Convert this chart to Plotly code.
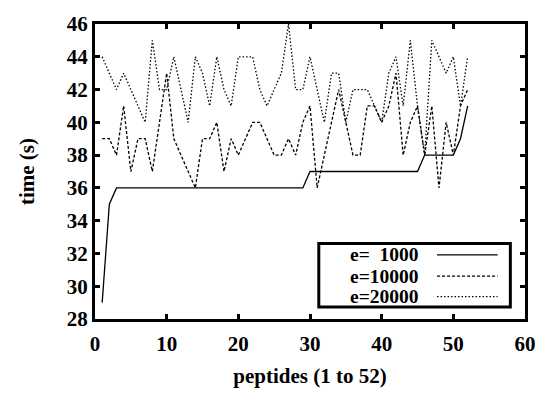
import plotly.graph_objects as go

peptides = list(range(1, 53))
e1000 = [29, 35] + [36] * 27 + [37] * 16 + [38] * 5 + [39, 41]
e10000 = [39, 39, 38, 41, 37, 39, 39, 37, 40, 43,
          39, 38, 37, 36, 39, 39, 40, 37, 39, 38,
          39, 40, 40, 39, 38, 38, 39, 38, 40, 41,
          36, 38, 40, 42, 40, 38, 38, 41, 41, 40,
          41, 43, 38, 40, 41, 38, 41, 36, 40, 38,
          41, 42]
e20000 = [44, 43, 42, 43, 42, 41, 40, 45, 42, 42,
          44, 42, 40, 44, 43, 41, 44, 42, 41, 44,
          44, 44, 42, 41, 42, 43, 46, 42, 42, 44,
          42, 40, 43, 43, 40, 42, 42, 42, 41, 40,
          43, 44, 41, 45, 41, 38, 45, 44, 43, 44,
          41, 44]
labels = ["e=\u00a0\u00a01000", "e=10000", "e=20000"]
dashes = ["solid", "3px,2px", "1.5px,2px"]
series = [e1000, e10000, e20000]

FONT = "Liberation Serif"
W, H = 548, 397
L, R, T, B = 95, 13, 17, 63
PW, PH = W - L - R, H - T - B

def px(x):
    return (x - L) / PW

def py(y):
    return (H - B - y) / PH

fig = go.Figure()
for vals, name, d in zip(series, labels, dashes):
    fig.add_trace(go.Scatter(x=peptides, y=vals, mode="lines", name=name,
                             line=dict(color="black", width=1.3, dash=d),
                             showlegend=False))

# custom gnuplot-style legend
fig.add_shape(type="rect", xref="paper", yref="paper",
              x0=px(324), x1=px(520), y0=py(321), y1=py(253),
              line=dict(color="black", width=3), fillcolor="white", layer="above")
rows = [265, 288, 310]
for name, d, r in zip(labels, dashes, rows):
    fig.add_annotation(xref="paper", yref="paper", x=px(429), y=py(r),
                       text=name, showarrow=False, xanchor="right", yanchor="middle",
                       font=dict(family=FONT, size=19.5, color="black", weight="bold"))
    fig.add_shape(type="line", xref="paper", yref="paper",
                  x0=px(445), x1=px(507), y0=py(r), y1=py(r),
                  line=dict(color="black", width=1.3, dash=d), layer="above")

axis_common = dict(showline=True, linecolor="black", linewidth=3, mirror="ticks",
                   ticks="inside", ticklen=5, tickwidth=3, tickcolor="black",
                   showgrid=False, zeroline=False,
                   tickfont=dict(family=FONT, size=21, color="black", weight="bold"))

fig.update_xaxes(range=[0, 60], dtick=10, tick0=0, ticklabelstandoff=4,
                 title=dict(text="peptides (1 to 52)", standoff=14,
                            font=dict(family=FONT, size=21, color="black", weight="bold")),
                 **axis_common)
fig.update_yaxes(range=[28, 46], dtick=2, tick0=28,
                 title=dict(text="time (s)", standoff=27,
                            font=dict(family=FONT, size=21, color="black", weight="bold")),
                 **axis_common)

fig.update_layout(width=W, height=H, margin=dict(l=L, r=R, t=T, b=B),
                  paper_bgcolor="white", plot_bgcolor="white", showlegend=False)

fig.write_html("out.html")
